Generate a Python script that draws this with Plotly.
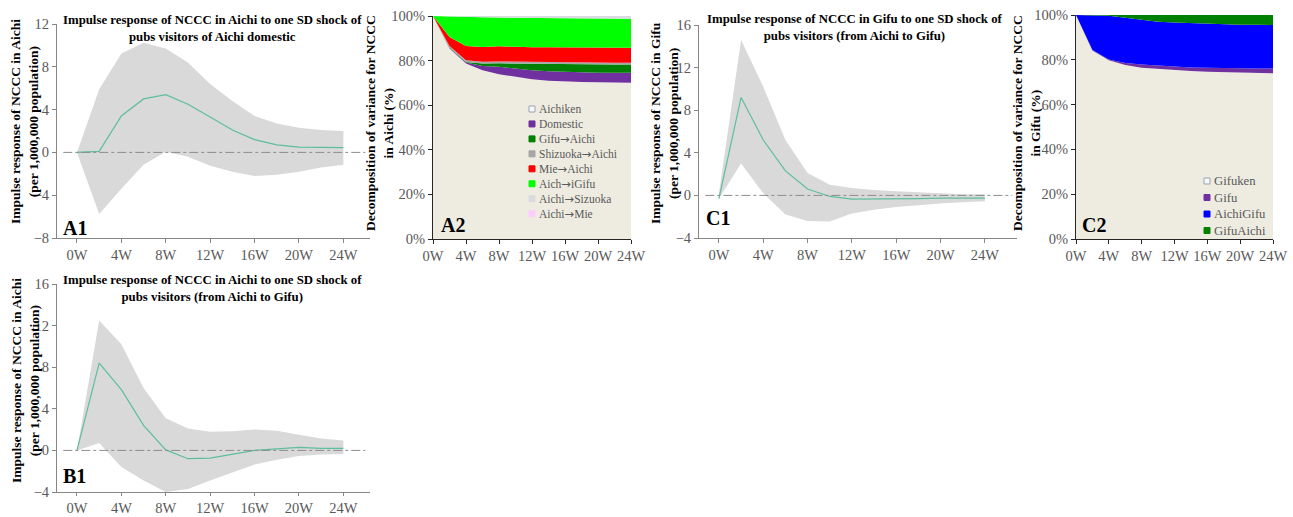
import plotly.graph_objects as go

W, H = 1293, 517

# ---------------- data ----------------
weeks = [0, 2, 4, 6, 8, 10, 12, 14, 16, 18, 20, 22, 24]
tick_weeks = [0, 4, 8, 12, 16, 20, 24]
tick_labels = ["0W", "4W", "8W", "12W", "16W", "20W", "24W"]

# A1: Impulse response of NCCC in Aichi to pubs visitors of Aichi domestic
a1_mean = [0, 0.1, 3.4, 5.0, 5.4, 4.5, 3.3, 2.1, 1.2, 0.7, 0.5, 0.45, 0.45]
a1_upper = [0, 5.9, 9.25, 10.25, 9.7, 8.4, 6.4, 4.8, 3.4, 2.7, 2.3, 2.1, 2.0]
a1_lower = [0, -5.75, -3.4, -1.15, 0.05, -0.4, -1.25, -1.8, -2.2, -2.1, -1.8, -1.4, -1.15]

# B1: Impulse response of NCCC in Aichi to pubs visitors (Aichi -> Gifu)
b1_mean = [0, 8.4, 5.85, 2.4, 0.05, -0.8, -0.75, -0.35, 0.0, 0.15, 0.3, 0.2, 0.2]
b1_upper = [0, 12.5, 10.2, 6.0, 3.1, 2.1, 1.8, 1.85, 2.0, 1.9, 1.5, 1.15, 0.95]
b1_lower = [0, 0.7, -1.6, -2.9, -4.0, -3.7, -2.9, -2.1, -1.35, -0.9, -0.55, -0.4, -0.35]

# C1: Impulse response of NCCC in Gifu to pubs visitors (Aichi -> Gifu)
c1_mean = [-0.3, 9.2, 5.2, 2.3, 0.6, -0.1, -0.35, -0.35, -0.35, -0.3, -0.25, -0.25, -0.25]
c1_upper = [0.2, 14.6, 10.2, 5.2, 2.1, 1.0, 0.7, 0.5, 0.4, 0.3, 0.2, 0.1, 0.1]
c1_lower = [-0.3, 3.0, 0.2, -1.8, -2.4, -2.45, -1.7, -1.35, -1.1, -0.9, -0.75, -0.65, -0.55]

# A2: variance decomposition for NCCC in Aichi (%)
a2_names = ["Aichiken", "Domestic", "Gifu→Aichi", "Shizuoka→Aichi", "Mie→Aichi",
            "Aich→iGifu", "Aichi→Sizuoka", "Aichi→Mie"]
a2_values = [
    [100, 85.4, 78.7, 75.7, 73.9, 72.7, 71.6, 71.0, 70.6, 70.4, 70.3, 70.1, 70.1],
    [0, 0.3, 0.4, 1.9, 3.3, 3.7, 4.1, 4.2, 4.3, 4.4, 4.3, 4.4, 4.4],
    [0, 0.2, 0.3, 1.1, 1.6, 2.3, 3.0, 3.2, 3.3, 3.4, 3.6, 3.7, 3.7],
    [0, 0.6, 0.8, 0.8, 0.8, 0.8, 0.8, 0.8, 0.8, 0.8, 0.8, 0.8, 0.8],
    [0, 4.1, 6.4, 6.6, 6.8, 6.6, 6.5, 6.8, 7.0, 6.9, 6.9, 6.8, 6.8],
    [0, 9.1, 12.9, 13.3, 12.9, 13.1, 13.2, 13.1, 13.0, 13.0, 13.0, 13.0, 13.0],
    [0, 0.3, 0.5, 0.6, 0.7, 0.8, 0.8, 0.9, 1.0, 1.1, 1.1, 1.2, 1.2],
    [0, 0.0, 0.0, 0.0, 0.0, 0.0, 0.0, 0.0, 0.0, 0.0, 0.0, 0.0, 0.0],
]
a2_colors = ["#EEECE1", "#7030A0", "#008000", "#A6A6A6", "#FF0000",
             "#00FF00", "#D9DBE0", "#FFCCFF"]

# C2: variance decomposition for NCCC in Gifu (%)
c2_names = ["Gifuken", "Gifu", "AichiGifu", "GifuAichi"]
c2_values = [
    [100, 84.1, 79.8, 77.7, 76.5, 75.9, 75.3, 75.0, 74.7, 74.5, 74.4, 74.2, 74.0],
    [0, 0.3, 0.3, 0.9, 1.4, 1.5, 1.5, 1.6, 1.7, 1.7, 1.7, 1.9, 2.1],
    [0, 15.6, 19.6, 20.2, 19.9, 19.6, 19.8, 19.7, 19.6, 19.6, 19.6, 19.5, 19.4],
    [0, 0.0, 0.3, 1.2, 2.2, 3.0, 3.4, 3.7, 4.0, 4.2, 4.3, 4.4, 4.5],
]
c2_colors = ["#EEECE1", "#7030A0", "#0000FF", "#008000"]

# ---------------- helpers ----------------
FONT = "Liberation Serif"
TICK_COLOR = "#595959"
BAND = "#D9D9D9"
LINE = "#5DBE9E"


def px_x(a, b):
    return [a / W, b / W]


def px_y(top, bottom):
    return [1 - bottom / H, 1 - top / H]


fig = go.Figure()


def irf_panel(n, mean, upper, lower):
    xa = "x" if n == 1 else f"x{n}"
    ya = "y" if n == 1 else f"y{n}"
    fig.add_trace(go.Scatter(x=weeks, y=lower, mode="lines", line=dict(width=0, color=BAND),
                             hoverinfo="skip", showlegend=False, xaxis=xa, yaxis=ya))
    fig.add_trace(go.Scatter(x=weeks, y=upper, mode="lines", line=dict(width=0, color=BAND),
                             fill="tonexty", fillcolor=BAND, showlegend=False,
                             xaxis=xa, yaxis=ya))
    fig.add_trace(go.Scatter(x=weeks, y=mean, mode="lines", line=dict(width=1.2, color=LINE),
                             showlegend=False, xaxis=xa, yaxis=ya))
    fig.add_shape(type="line", xref=f"{xa} domain", yref=ya, x0=0.02, x1=0.985, y0=0, y1=0,
                  line=dict(color="#8C8C8C", width=1, dash="dashdot"), layer="above")


def stack_panel(n, names, values, colors):
    xa, ya = f"x{n}", f"y{n}"
    for name, vals, col in zip(names, values, colors):
        fig.add_trace(go.Scatter(x=weeks, y=vals, name=name, mode="lines",
                                 line=dict(width=0, color=col), fillcolor=col,
                                 stackgroup=f"s{n}", showlegend=False,
                                 xaxis=xa, yaxis=ya))


irf_panel(1, a1_mean, a1_upper, a1_lower)
stack_panel(2, a2_names, a2_values, a2_colors)
irf_panel(3, c1_mean, c1_upper, c1_lower)
stack_panel(4, c2_names, c2_values, c2_colors)
irf_panel(5, b1_mean, b1_upper, b1_lower)

tickfont = dict(family=FONT, size=14.5, color=TICK_COLOR)


def irf_axes(dx, dy, yrange, xrange):
    xa = dict(domain=px_x(*dx), range=xrange, tickvals=tick_weeks, ticktext=tick_labels,
              showgrid=False, zeroline=False, showline=True, linecolor="#868686",
              linewidth=1, ticks="outside", ticklen=4, tickcolor="#868686",
              tickfont=tickfont, fixedrange=True, automargin=False)
    ya = dict(domain=px_y(*dy), range=yrange, dtick=4, showgrid=False, zeroline=False,
              showline=True, linecolor="#868686", linewidth=1, ticks="outside",
              ticklen=4, tickcolor="#868686", tickfont=tickfont, fixedrange=True,
              automargin=False)
    return xa, ya


def stack_axes(dx, dy, n):
    xa = dict(domain=px_x(*dx), range=[0, 24], tickvals=tick_weeks, ticktext=tick_labels,
              showgrid=False, zeroline=False, showline=True, linecolor="#262626",
              linewidth=1, ticks="outside", ticklen=4, tickcolor="#262626",
              tickfont=tickfont, anchor=f"y{n}", automargin=False, fixedrange=True)
    ya = dict(domain=px_y(*dy), range=[0, 100], dtick=20, ticksuffix="%", showgrid=False,
              zeroline=False, showline=True, linecolor="#262626", linewidth=1,
              ticks="outside", ticklen=4, tickcolor="#262626", tickfont=tickfont,
              anchor=f"x{n}", automargin=False, fixedrange=True)
    return xa, ya


x1, y1 = irf_axes((57, 370), (24, 238), [-8, 12], [-1.8, 26.4])
x3, y3 = irf_axes((699, 1017), (25, 238), [-4, 16], [-1.8, 26.9])
x5, y5 = irf_axes((57, 370), (284, 492), [-4, 16], [-1.8, 26.4])
x5["ticklen"] = 3
x2, y2 = stack_axes((433, 631), (16, 239), 2)
x4, y4 = stack_axes((1076, 1273), (15, 239), 4)
x1["anchor"], y1["anchor"] = "y", "x"
x3["anchor"], y3["anchor"] = "y3", "x3"
x5["anchor"], y5["anchor"] = "y5", "x5"

annotations = []


def ann(text, x, y, size=12.8, angle=0, color="black", xanchor="center", bold=True,
        yanchor="middle", align="center"):
    annotations.append(dict(text=f"<b>{text}</b>" if bold else text, x=x / W, y=1 - y / H,
                            xref="paper", yref="paper", showarrow=False, textangle=angle,
                            xanchor=xanchor, yanchor=yanchor, align=align,
                            font=dict(family=FONT, size=size, color=color)))


# titles
ann("Impulse response of NCCC in Aichi to one SD shock of<br>pubs visitors of Aichi domestic", 212, 28.5)
ann("Impulse response of NCCC in Gifu to one SD shock of<br>pubs visitors (from Aichi to Gifu)", 855, 27.5)
ann("Impulse response of NCCC in Aichi to one SD shock of<br>pubs visitors (from Aichi to Gifu)", 212, 288)
# y-axis titles
ann("Impulse response of NCCC in Aichi<br>(per 1,000,000 population)", 25, 122, size=13.5, angle=-90)
ann("Impulse response of NCCC in Aichi<br>(per 1,000,000 population)", 25, 381, size=13.5, angle=-90)
ann("Impulse response of NCCC in Gifu<br>(per 1,000,000 population)", 665, 123, size=13.5, angle=-90)
ann("Decomposition of variance for NCCC<br>in Aichi (%)", 380, 123, size=13.5, angle=-90)
ann("Decomposition of variance for NCCC<br>in Gifu (%)", 1027, 123, size=13.5, angle=-90)
# panel labels
ann("A1", 61, 228, size=20, xanchor="left")
ann("A2", 439, 225, size=20, xanchor="left")
ann("C1", 704, 218, size=20, xanchor="left")
ann("C2", 1080, 225, size=20, xanchor="left")
ann("B1", 61, 476, size=20, xanchor="left")

shapes = []
ARROW = '<span style="font-family:DejaVu Sans">→</span>'


def legend(names, colors, sq_x, text_x, y_first, size):
    step = 1.3 * size
    top = y_first - step / 2 - 1
    lines = [n.replace("→", ARROW) for n in names]
    ann("<br>".join(lines), text_x, top, size=size, color=TICK_COLOR, xanchor="left",
        bold=False, yanchor="top", align="left")
    for i, col in enumerate(colors):
        yc = y_first + i * step
        border = "#9AA3B5" if col == "#EEECE1" else col
        fill = "#F8F8F8" if col == "#EEECE1" else col
        shapes.append(dict(type="rect", xref="paper", yref="paper",
                           x0=(sq_x - 3) / W, x1=(sq_x + 3) / W,
                           y0=1 - (yc + 3) / H, y1=1 - (yc - 3) / H,
                           line=dict(color=border, width=1), fillcolor=fill, layer="above"))


legend(a2_names, a2_colors, 532, 537, 109, 11.5)
legend(c2_names, c2_colors, 1207, 1212, 181, 12.7)

fig.update_layout(
    template="none",
    width=W, height=H, margin=dict(l=0, r=0, t=0, b=0, autoexpand=False),
    paper_bgcolor="white", plot_bgcolor="white", showlegend=False,
    xaxis=x1, yaxis=y1, xaxis2=x2, yaxis2=y2, xaxis3=x3, yaxis3=y3,
    xaxis4=x4, yaxis4=y4, xaxis5=x5, yaxis5=y5,
    annotations=annotations,
    font=dict(family=FONT),
    hovermode=False,
)
for s in shapes:
    fig.add_shape(**s)

fig.write_html(
    "out.html",
    config={"displayModeBar": False},
    post_script="document.body.style.margin='0';document.body.style.overflow='hidden';",
)
